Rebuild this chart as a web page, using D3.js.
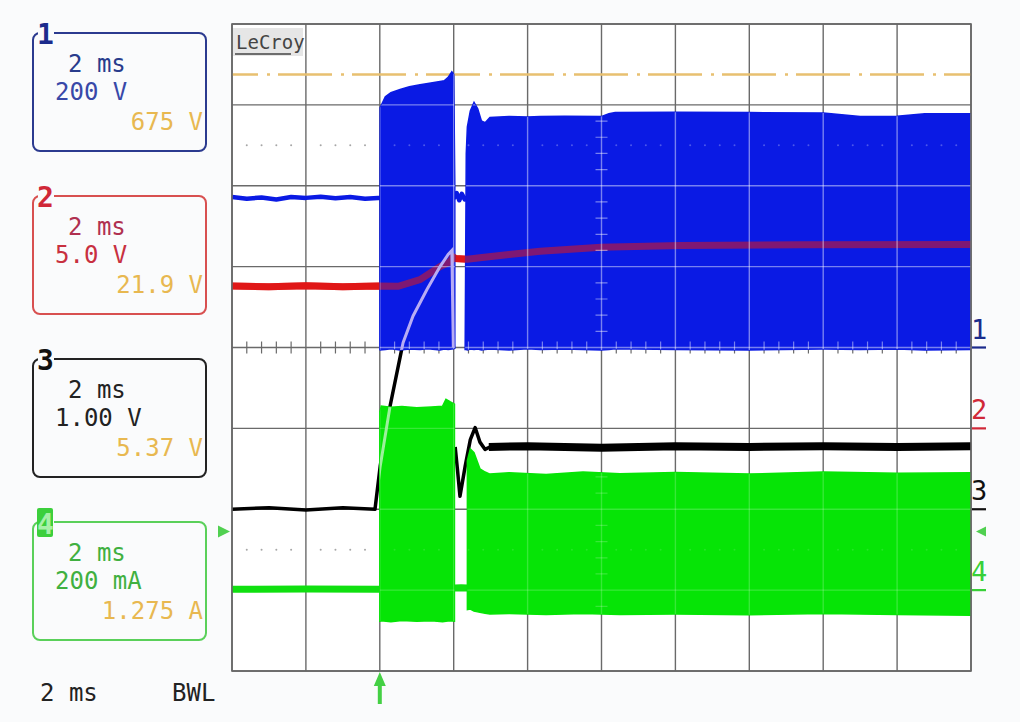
<!DOCTYPE html>
<html>
<head>
<meta charset="utf-8">
<script src="https://cdn.jsdelivr.net/npm/d3@7"></script>
<style>
body { margin: 0; background: #fafbfc; }
svg { display: block; }
text { font-family: "DejaVu Sans Mono", monospace; }
</style>
</head>
<body>
<svg width="1020" height="722"></svg>
<script>
// time in ms (2 ms/div, trigger at 0), screen in divisions
var timeTicks = d3.range(-4, 17, 2);
var divTicks = d3.range(-4, 5, 1);

// channel 1 : volts, 200 V/div
var ch1Level = 675;
var ch1Line = [[-4,372],[-3.6,368],[-3.2,371],[-2.8,366],[-2.4,372],[-2,370],[-1.6,373],[-1.2,369],[-0.8,372],[-0.4,368],[-0.05,370],[1,371],[2.02,371],[2.08,382],[2.15,364],[2.22,380],[2.3,366],[2.37,371]];
// [t, top, bottom] envelope of the switching bursts
var ch1Burst1 = [[0.0,-5,-5],[0.01,593,-6],[0.15,620,-5],[0.3,630,-3],[0.55,638,-6],[0.8,645,-4],[1.09,650,-5],[1.3,653,-3],[1.63,658,-6],[1.75,660,-4],[1.85,668,-5],[1.95,682,-4],[2.0,676,-3],[2.03,400,-2]];
var ch1Burst2 = [[2.31,-5,-5],[2.34,480,-5],[2.37,546,-6],[2.45,585,-4],[2.55,606,-5],[2.65,590,-4],[2.75,560,-6],[2.85,556,-5],[2.98,569,-4],[3.5,571,-6],[4.0,570,-3],[4.34,571,-5],[5.0,572,-4],[5.99,571,-6],[6.2,578,-5],[6.37,581,-3],[8.0,582,-5],[10.0,581,-6],[12.0,580,-4],[13.0,571,-5],[14.0,572,-4],[14.75,578,-6],[16.0,578,-5]];

// channel 2 : volts, 5 V/div
var ch2Line = [[-4,8.8],[-3,8.75],[-2,8.82],[-1,8.76],[-0.05,8.8],[0.5,8.78],[1.09,9.2],[1.63,10.0],[1.9,10.3],[1.98,10.6],[2.05,10.5],[2.37,10.45],[2.71,10.55],[3.5,10.75],[4.34,10.95],[5.99,11.2],[8.12,11.3],[11.37,11.35],[16,11.37]];

// channel 3 : volts, 1 V/div
var ch3Rise = [[-4,0.0],[-3,0.02],[-2,-0.01],[-1,0.02],[-0.13,0.0],[0.01,0.53],[0.28,1.28],[0.63,2.06],[0.9,2.39],[1.28,2.72],[1.63,3.0],[1.85,3.15],[1.95,3.2],[1.97,2.6],[1.99,2.0]];
var ch3Recover = [[2.04,0.77],[2.1,0.5],[2.17,0.16],[2.31,0.53],[2.45,0.86],[2.58,1.01],[2.71,0.83],[2.85,0.74],[2.98,0.77]];
var ch3Settle = [[2.95,0.77],[4,0.78],[6,0.76],[8,0.78],[10,0.77],[12,0.78],[14,0.77],[16,0.78]];

// channel 4 : milliamps, 200 mA/div
var ch4Trig = 145;
var ch4Line = [[-4,2],[-2,3],[-0.05,2],[1,3],[2.04,5],[2.2,6],[2.37,5]];
var ch4Burst1 = [[0.0,440,-77],[0.04,455,-76],[0.3,452,-78],[0.6,454,-75],[1.0,451,-77],[1.4,453,-76],[1.7,455,-78],[1.79,472,-77],[1.9,466,-76],[2.02,460,-77]];
var ch4Burst2 = [[2.37,320,-48],[2.45,349,-47],[2.55,340,-52],[2.71,300,-55],[2.85,292,-57],[2.98,287,-59],[3.5,290,-58],[4.5,286,-60],[5.5,292,-58],[6.5,288,-60],[8,291,-59],[10,287,-61],[12,292,-58],[14,289,-60],[16,290,-62]];

// channel boxes
var boxNames = ["1","2","3","4"];
var boxTime = ["2 ms","2 ms","2 ms","2 ms"];
var boxScale = ["200 V","5.0 V","1.00 V","200 mA"];
var boxReadout = ["675 V","21.9 V","5.37 V","1.275 A"];

var svg = d3.select("svg");
var x = d3.scaleLinear().domain([-4, 16]).range([232, 971]);
var yDiv = d3.scaleLinear().domain([-4, 4]).range([671, 24]);
function chScale(offset, perDiv) {
  return d3.scaleLinear().domain([0, perDiv]).range([yDiv(offset), yDiv(offset + 1)]);
}
var y1 = chScale(0, 200), y2 = chScale(-1, 5), y3 = chScale(-2, 1), y4 = chScale(-3, 200);

var blue = "#0a1ae4", green = "#10e010", red = "#e01818";

var defs = svg.append("defs");
defs.append("clipPath").attr("id", "plot").append("rect")
  .attr("x", 232).attr("y", 24).attr("width", 739).attr("height", 647);

var area1 = d3.area().x(function(d){ return x(d[0]); }).y0(function(d){ return y1(d[2]); }).y1(function(d){ return y1(d[1]); });
var area4 = d3.area().x(function(d){ return x(d[0]); }).y0(function(d){ return y4(d[2]); }).y1(function(d){ return y4(d[1]); });
var blueClip = defs.append("clipPath").attr("id", "blueClip");
[ch1Burst1, ch1Burst2].forEach(function(b){ blueClip.append("path").attr("d", area1(b)); });
var greenClip = defs.append("clipPath").attr("id", "greenClip");
[ch4Burst1, ch4Burst2].forEach(function(b){ greenClip.append("path").attr("d", area4(b)); });

svg.append("rect").attr("x", 232).attr("y", 24).attr("width", 739).attr("height", 647).attr("fill", "#fff");

// graticule
function drawGrid(g, color, op, vTicks) {
  g.selectAll(".v").data(timeTicks).enter().append("line")
    .attr("x1", function(d){ return x(d); }).attr("x2", function(d){ return x(d); })
    .attr("y1", yDiv(-4)).attr("y2", yDiv(4))
    .attr("stroke", color).attr("stroke-opacity", op).attr("stroke-width", 1.4);
  g.selectAll(".h").data(divTicks).enter().append("line")
    .attr("y1", function(d){ return yDiv(d); }).attr("y2", function(d){ return yDiv(d); })
    .attr("x1", x(-4)).attr("x2", x(16))
    .attr("stroke", color).attr("stroke-opacity", op).attr("stroke-width", 1.4);
  var minT = d3.range(-4, 16.01, 0.4).filter(function(t){ return Math.abs(t/2 - Math.round(t/2)) > 0.01; });
  var minD = d3.range(-4, 4.01, 0.2).filter(function(v){ return Math.abs(v - Math.round(v)) > 0.01; });
  g.selectAll(".tx").data(minT).enter().append("line")
    .attr("x1", function(d){ return x(d); }).attr("x2", function(d){ return x(d); })
    .attr("y1", yDiv(0) - 6).attr("y2", yDiv(0) + 6)
    .attr("stroke", color).attr("stroke-opacity", op).attr("stroke-width", 1.2);
  if (vTicks) {
    g.selectAll(".ty").data(minD).enter().append("line")
      .attr("y1", function(d){ return yDiv(d); }).attr("y2", function(d){ return yDiv(d); })
      .attr("x1", x(6) - 6).attr("x2", x(6) + 6)
      .attr("stroke", color).attr("stroke-opacity", op).attr("stroke-width", 1.2);
  }
  [2.5, -2.5].forEach(function(r){
    g.append("g").selectAll("circle").data(minT).enter().append("circle")
      .attr("cx", function(d){ return x(d); }).attr("cy", yDiv(r)).attr("r", 1)
      .attr("fill", color).attr("fill-opacity", op * 0.6);
  });
}
drawGrid(svg.append("g"), "#6a6a6a", 1, false);

// level line of channel 1
svg.append("line").attr("x1", x(-4)).attr("x2", x(16)).attr("y1", y1(ch1Level)).attr("y2", y1(ch1Level))
  .attr("stroke", "#e8c070").attr("stroke-width", 2.5)
  .attr("stroke-dasharray", "54,9,3,8").attr("stroke-dashoffset", 28);

var plot = svg.append("g").attr("clip-path", "url(#plot)");
function lineOf(ys) {
  return d3.line().x(function(d){ return x(d[0]); }).y(function(d){ return ys(d[1]); });
}

plot.append("path").attr("d", lineOf(y1)(ch1Line)).attr("fill", "none").attr("stroke", blue).attr("stroke-width", 4.5).attr("stroke-linejoin", "round");
plot.append("path").attr("d", lineOf(y4)(ch4Line)).attr("fill", "none").attr("stroke", green).attr("stroke-width", 7);
plot.append("path").attr("d", lineOf(y2)(ch2Line)).attr("fill", "none").attr("stroke", red).attr("stroke-width", 7).attr("stroke-linejoin", "round");
[ch3Rise, ch3Recover].forEach(function(s){
  plot.append("path").attr("d", lineOf(y3)(s)).attr("fill", "none").attr("stroke", "#000").attr("stroke-width", 3.5).attr("stroke-linejoin", "round");
});
plot.append("path").attr("d", lineOf(y3)(ch3Settle)).attr("fill", "none").attr("stroke", "#000").attr("stroke-width", 8);

[ch1Burst1, ch1Burst2].forEach(function(b){
  plot.append("path").attr("d", area1(b)).attr("fill", blue).attr("stroke", blue).attr("stroke-width", 1.5);
});
[ch4Burst1, ch4Burst2].forEach(function(b){
  plot.append("path").attr("d", area4(b)).attr("fill", "#06e406").attr("stroke", "#06e406").attr("stroke-width", 1.5);
});

// traces seen through the bursts
plot.append("path").attr("d", lineOf(y2)(ch2Line)).attr("fill", "none").attr("stroke", red).attr("stroke-opacity", 0.55).attr("stroke-width", 7);
var onBlue = plot.append("g").attr("clip-path", "url(#blueClip)");
drawGrid(onBlue.append("g"), "#ffffff", 0.45, true);
onBlue.append("path").attr("d", lineOf(y3)(ch3Rise)).attr("fill", "none").attr("stroke", "#b8acf4").attr("stroke-width", 3);
var onGreen = plot.append("g").attr("clip-path", "url(#greenClip)");
drawGrid(onGreen.append("g"), "#ffffff", 0.2, true);
onGreen.append("path").attr("d", lineOf(y3)(ch3Rise)).attr("fill", "none").attr("stroke", "#9cf09c").attr("stroke-width", 3);

// frame
svg.append("rect").attr("x", 232).attr("y", 24).attr("width", 739).attr("height", 647)
  .attr("fill", "none").attr("stroke", "#666").attr("stroke-width", 1.6);

// LeCroy tag
svg.append("rect").attr("x", 233).attr("y", 28).attr("width", 70).attr("height", 28).attr("fill", "#e6e6e6");
svg.append("text").attr("x", 236).attr("y", 49).attr("font-size", 19).attr("fill", "#444").text("LeCroy");
svg.append("line").attr("x1", 235).attr("x2", 291).attr("y1", 54).attr("y2", 54).attr("stroke", "#444").attr("stroke-width", 1.5);

// ground markers on right
var markColor = ["#1b2b8c", "#d02838", "#111", "#38d038"];
[y1, y2, y3, y4].forEach(function(s, i){
  var gy = s(0);
  svg.append("text").attr("x", 971).attr("y", gy - 9).attr("font-size", 27).attr("fill", markColor[i]).text(boxNames[i]);
  svg.append("line").attr("x1", 972).attr("x2", 986).attr("y1", gy).attr("y2", gy).attr("stroke", markColor[i]).attr("stroke-width", 2.2);
});
// ch4 trigger level markers
var ty = y4(ch4Trig);
svg.append("path").attr("d", "M218," + (ty - 6) + "L230," + ty + "L218," + (ty + 6) + "Z").attr("fill", "#50d050");
svg.append("path").attr("d", "M986," + (ty - 5) + "L976," + ty + "L986," + (ty + 5) + "Z").attr("fill", "#50d050");
// trigger time arrow
var tx = x(0);
svg.append("path").attr("d", "M" + tx + ",672L" + (tx - 6) + ",686L" + (tx - 2) + ",686L" + (tx - 2) + ",704L" + (tx + 2) + ",704L" + (tx + 2) + ",686L" + (tx + 6) + ",686Z")
  .attr("fill", "#44d044");

// channel boxes
var boxBorder = ["#2b3a8f", "#d85050", "#222", "#5ad05a"];
var boxLabel = ["#1b2b8c", "#d02838", "#111", "#3ccf3c"];
var boxTxt1 = ["#283c8c", "#b03050", "#222", "#40b040"];
var boxTxt2 = ["#3848a8", "#c83040", "#222", "#40b040"];
boxNames.forEach(function(n, i){
  var top = 33 + i * 163;
  var g = svg.append("g");
  g.append("rect").attr("x", 33).attr("y", top).attr("width", 173).attr("height", 118).attr("rx", 7)
    .attr("fill", "none").attr("stroke", boxBorder[i]).attr("stroke-width", 2);
  g.append("rect").attr("x", 38).attr("y", top - 4).attr("width", 16).attr("height", 8).attr("fill", "#fafbfc");
  if (i === 3) {
    g.append("rect").attr("x", 37).attr("y", top - 14).attr("width", 16).attr("height", 29).attr("rx", 2).attr("fill", boxLabel[i]);
    g.append("text").attr("x", 37).attr("y", top + 12).attr("font-size", 28).attr("font-weight", "bold").attr("fill", "#a8f0a8").text(n);
  } else {
    g.append("text").attr("x", 37).attr("y", top + 11).attr("font-size", 28).attr("font-weight", "bold").attr("fill", boxLabel[i]).text(n);
  }
  g.append("text").attr("x", 68).attr("y", top + 39).attr("font-size", 24).attr("fill", boxTxt1[i]).text(boxTime[i]);
  g.append("text").attr("x", 55).attr("y", top + 67).attr("font-size", 24).attr("fill", boxTxt2[i]).text(boxScale[i]);
  g.append("text").attr("x", 203).attr("y", top + 97).attr("font-size", 24).attr("text-anchor", "end").attr("fill", "#e8b850").text(boxReadout[i]);
});

svg.append("text").attr("x", 40).attr("y", 701).attr("font-size", 24).attr("fill", "#222").text("2 ms");
svg.append("text").attr("x", 172).attr("y", 701).attr("font-size", 24).attr("fill", "#222").text("BWL");
</script>
</body>
</html>
